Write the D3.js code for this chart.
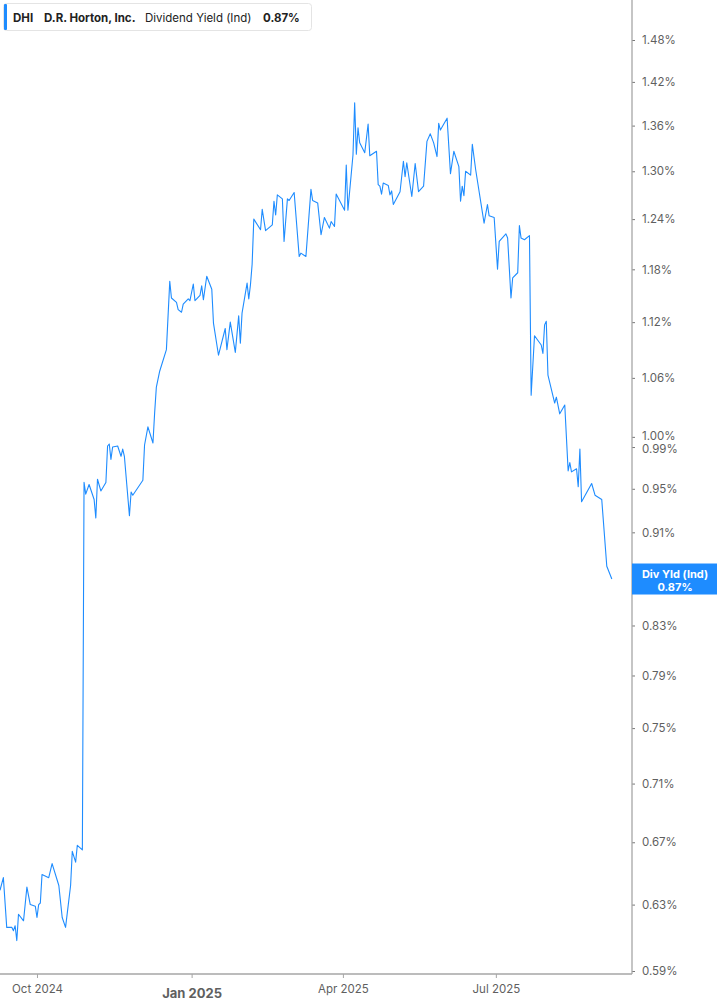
<!DOCTYPE html>
<html>
<head>
<meta charset="utf-8">
<script src="https://cdn.jsdelivr.net/npm/d3@7"></script>
<style>
	body{margin:0;background:#fff;}
	svg{display:block;font-family:Inter, "Noto Sans", sans-serif;}
</style>
</head>
<body>
<svg id="chart" width="717" height="1005"></svg>
<script>
// DHI dividend yield (indicated), %
const dates = [
	"2024-09-09","2024-09-11","2024-09-13","2024-09-16","2024-09-17","2024-09-18","2024-09-19","2024-09-20","2024-09-23","2024-09-25",
	"2024-09-27","2024-09-30","2024-10-01","2024-10-02","2024-10-03","2024-10-04","2024-10-08","2024-10-10","2024-10-14","2024-10-16",
	"2024-10-18","2024-10-21","2024-10-22","2024-10-24","2024-10-25","2024-10-28","2024-10-29","2024-10-30","2024-11-01","2024-11-04",
	"2024-11-05","2024-11-06","2024-11-08","2024-11-11","2024-11-12","2024-11-13","2024-11-14","2024-11-15","2024-11-18","2024-11-20",
	"2024-11-21","2024-11-22","2024-11-25","2024-11-26","2024-11-27","2024-12-03","2024-12-04","2024-12-06","2024-12-09","2024-12-10",
	"2024-12-11","2024-12-13","2024-12-17","2024-12-19","2024-12-20","2024-12-23","2024-12-24","2024-12-26","2024-12-27","2024-12-30",
	"2024-12-31","2025-01-02","2025-01-03","2025-01-06","2025-01-07","2025-01-08","2025-01-10","2025-01-13","2025-01-14","2025-01-17",
	"2025-01-21","2025-01-22","2025-01-24","2025-01-27","2025-01-29","2025-01-30","2025-01-31","2025-02-03","2025-02-04","2025-02-05",
	"2025-02-06","2025-02-07","2025-02-11","2025-02-12","2025-02-14","2025-02-18","2025-02-19","2025-02-20","2025-02-21","2025-02-24",
	"2025-02-25","2025-02-27","2025-02-28","2025-03-03","2025-03-06","2025-03-07","2025-03-10","2025-03-13","2025-03-14","2025-03-17",
	"2025-03-19","2025-03-21","2025-03-24","2025-03-25","2025-03-27","2025-03-28","2025-04-02","2025-04-03","2025-04-04","2025-04-07",
	"2025-04-08","2025-04-09","2025-04-10","2025-04-11","2025-04-14","2025-04-16","2025-04-17","2025-04-21","2025-04-22","2025-04-23",
	"2025-04-24","2025-04-25","2025-04-28","2025-04-29","2025-04-30","2025-05-01","2025-05-05","2025-05-07","2025-05-08","2025-05-09",
	"2025-05-12","2025-05-14","2025-05-16","2025-05-19","2025-05-21","2025-05-23","2025-05-25","2025-05-27","2025-05-28","2025-05-29",
	"2025-06-02","2025-06-04","2025-06-06","2025-06-09","2025-06-10","2025-06-11","2025-06-12","2025-06-13","2025-06-16","2025-06-17",
	"2025-06-19","2025-06-24","2025-06-26","2025-06-27","2025-06-30","2025-07-02","2025-07-03","2025-07-07","2025-07-08","2025-07-10",
	"2025-07-11","2025-07-14","2025-07-15","2025-07-16","2025-07-18","2025-07-21","2025-07-22","2025-07-24","2025-07-28","2025-07-29",
	"2025-07-30","2025-07-31","2025-08-01","2025-08-05","2025-08-06","2025-08-08","2025-08-11","2025-08-13","2025-08-14","2025-08-15",
	"2025-08-18","2025-08-19","2025-08-20","2025-08-21","2025-08-27","2025-08-29","2025-09-02","2025-09-05","2025-09-08"
]
const yieldPct = [
	0.639,0.647,0.616,0.616,0.614,0.617,0.608,0.624,0.620,0.641,
	0.630,0.629,0.622,0.630,0.631,0.649,0.647,0.656,0.642,0.622,
	0.616,0.642,0.664,0.657,0.668,0.665,0.956,0.945,0.954,0.940,
	0.923,0.959,0.948,0.956,0.991,0.993,0.978,0.990,0.991,0.981,
	0.988,0.981,0.925,0.947,0.944,0.958,0.992,1.010,0.994,1.024,
	1.050,1.067,1.090,1.166,1.147,1.142,1.134,1.131,1.140,1.146,
	1.144,1.163,1.144,1.150,1.161,1.145,1.172,1.157,1.119,1.084,
	1.113,1.090,1.120,1.087,1.127,1.097,1.130,1.164,1.146,1.162,
	1.186,1.240,1.227,1.252,1.226,1.233,1.262,1.245,1.270,1.265,
	1.213,1.265,1.263,1.273,1.195,1.199,1.195,1.277,1.263,1.260,
	1.221,1.242,1.229,1.237,1.231,1.271,1.251,1.308,1.251,1.321,
	1.391,1.322,1.357,1.337,1.324,1.362,1.320,1.326,1.283,1.281,
	1.271,1.285,1.282,1.270,1.275,1.258,1.274,1.313,1.293,1.311,
	1.268,1.310,1.274,1.281,1.339,1.349,1.337,1.319,1.363,1.354,
	1.370,1.297,1.326,1.306,1.262,1.281,1.269,1.300,1.295,1.335,
	1.302,1.235,1.258,1.244,1.242,1.180,1.213,1.222,1.217,1.147,
	1.170,1.176,1.232,1.217,1.215,1.220,1.042,1.105,1.095,1.086,
	1.117,1.121,1.063,1.034,1.040,1.023,1.032,0.967,0.975,0.966,
	0.969,0.952,0.988,0.938,0.955,0.944,0.940,0.880,0.869
]
const yTicks = [1.48,1.42,1.36,1.30,1.24,1.18,1.12,1.06,1.00,0.99,0.95,0.91,0.87,0.83,0.79,0.75,0.71,0.67,0.63,0.59]
const xTicks = ["2024-10-01","2025-01-01","2025-04-01","2025-07-01"]
const xDomain = ["2024-09-09","2025-09-20"]
const ticker = "DHI", company = "D.R. Horton, Inc.", metric = "Dividend Yield (Ind)", tagName = "Div Yld (Ind)"

const parse = d3.utcParse("%Y-%m-%d")
const data = dates.map((d,i) => ({date: parse(d), value: yieldPct[i]}))
const last = data[data.length-1]

const svg = d3.select("#chart")
const plotRight = 632, plotBottom = 974
const blue = "#1e8cff", axisGrey = "#a6a6a6", textGrey = "#5f5f5f"

const x = d3.scaleUtc().domain(xDomain.map(parse)).range([0, plotRight])
const y = d3.scaleLog().domain([0.59, 1.48]).range([971, 40])

// the line
svg.append("path")
	.datum(data)
	.attr("fill", "none")
	.attr("stroke", blue)
	.attr("stroke-width", 1.1)
	.attr("stroke-linejoin", "round")
	.attr("d", d3.line().x(d=>x(d.date)).y(d=>y(d.value)))

// right axis (the last-value tag covers its own tick, as in the source)
const yAxis = svg.append("g").attr("transform", `translate(${plotRight},0)`)
	.call(d3.axisRight(y).tickValues(yTicks.filter(t => t !== 0.87)).tickSize(3).tickPadding(7)
		.tickFormat(d => d3.format(".2f")(d) + "%"))
yAxis.select(".domain").remove()
yAxis.selectAll(".tick line").attr("stroke", "#777")
yAxis.selectAll(".tick text").attr("fill", textGrey).attr("font-size", 11.5).attr("font-family", "Inter, sans-serif")
	.filter(d => d === 1.00).attr("dy", "0.2em")
yAxis.selectAll(".tick text").filter(d => d === 0.99).attr("dy", "0.5em")
svg.append("line").attr("x1", plotRight).attr("x2", plotRight).attr("y1", 0).attr("y2", plotBottom)
	.attr("stroke", axisGrey).attr("stroke-width", 1.3)

// bottom axis
const xAxis = svg.append("g").attr("transform", `translate(0,${plotBottom})`)
	.call(d3.axisBottom(x).tickValues(xTicks.map(parse)).tickSize(4).tickPadding(7)
		.tickFormat(d3.utcFormat("%b %Y")))
xAxis.select(".domain").remove()
xAxis.selectAll(".tick line").attr("stroke", axisGrey)
xAxis.selectAll(".tick text").attr("fill", textGrey).attr("font-size", 11.5).attr("font-family", "Inter, sans-serif")
	.filter(d => d.getUTCMonth() === 0).attr("font-weight", 700).attr("font-size", 13).attr("dy", "1.0em")
svg.append("line").attr("x1", 0).attr("x2", plotRight).attr("y1", plotBottom).attr("y2", plotBottom)
	.attr("stroke", axisGrey).attr("stroke-width", 1.3)

// last value tag
const tag = svg.append("g").attr("transform", `translate(${plotRight},${y(last.value)})`)
tag.append("rect").attr("x", 0).attr("y", -15.5).attr("width", 717-plotRight).attr("height", 31).attr("fill", blue)
tag.append("text").attr("x", 43).attr("y", -1).attr("text-anchor", "middle").attr("fill", "#fff")
	.attr("font-size", 11).attr("font-weight", 700).text(tagName)
tag.append("text").attr("x", 43).attr("y", 12).attr("text-anchor", "middle").attr("fill", "#fff")
	.attr("font-size", 11).attr("font-weight", 700).text(d3.format(".2f")(last.value) + "%")

// header box
const head = svg.append("g")
head.append("rect").attr("x", 3.5).attr("y", 3.5).attr("width", 308).attr("height", 27).attr("rx", 3)
	.attr("fill", "#fff").attr("stroke", "#e4e4e4")
head.append("rect").attr("x", 4).attr("y", 4).attr("width", 3).attr("height", 26).attr("rx", 1).attr("fill", blue)
const headText = head.append("text").attr("y", 21.5).attr("font-size", 11.5).attr("fill", "#222")
headText.append("tspan").attr("x", 13).attr("font-weight", 700).text(ticker)
headText.append("tspan").attr("x", 44).attr("font-weight", 700).text(company)
headText.append("tspan").attr("x", 145).attr("font-weight", 400).text(metric)
headText.append("tspan").attr("x", 263).attr("font-weight", 700).text(d3.format(".2f")(last.value) + "%")
</script>
</body>
</html>
